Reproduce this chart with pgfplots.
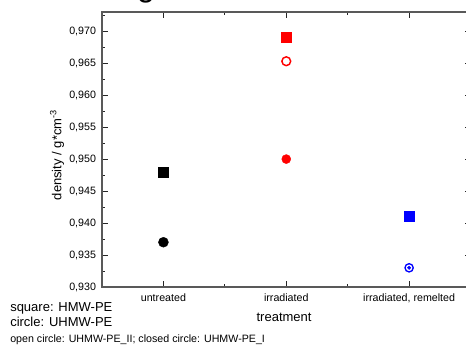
\documentclass[border=0pt]{standalone}
\usepackage{fontspec}
\setmainfont{Liberation Sans}
\usepackage{pgfplots}
\pgfplotsset{compat=1.18}

\begin{document}
\begin{tikzpicture}
% page frame: the axis corner sits at the origin, the right spine runs off the page
\useasboundingbox (-76.5pt,-43.5pt) rectangle (273pt,215.25pt);
\clip (-76.5pt,-43.5pt) rectangle (273pt,215.25pt);

% heading, mostly above the page edge
\node[anchor=base, inner sep=0pt, font=\fontsize{24}{28}\selectfont] at (33pt,217.5pt) {g};

\begin{axis}[
  at={(0,0)}, anchor=south west,
  scale only axis,
  width=276.4pt, height=206.25pt,
  xmin=-0.5, xmax=2.5,
  ymin=0.930, ymax=0.973,
  xtick={0,1,2},
  xticklabels={untreated, irradiated, {irradiated, remelted}},
  minor xtick={0.5,1.5},
  ytick={0.930,0.935,0.940,0.945,0.950,0.955,0.960,0.965,0.970},
  minor ytick={0.9325,0.9375,0.9425,0.9475,0.9525,0.9575,0.9625,0.9675,0.9725},
  /pgf/number format/assume math mode=true,
  yticklabel style={xshift=-1pt,
    /pgf/number format/fixed, /pgf/number format/fixed zerofill,
    /pgf/number format/precision=3, /pgf/number format/use comma},
  ticklabel style={font=\fontsize{8}{9.6}\selectfont},
  xticklabel style={anchor=base, yshift=-10.5pt},
  axis line style={black!65, line width=0.8pt},
  major tick length=4.5pt,
  minor tick length=2.25pt,
  every tick/.style={black!85, line width=0.6pt},
  xlabel={treatment},
  ylabel={density / g*cm\textsuperscript{-3}},
  label style={font=\fontsize{9.75}{11}\selectfont},
  xlabel style={at={(axis description cs:0.494,-0.126)}, anchor=base},
  ylabel style={at={(axis description cs:-0.122,0.48)}, anchor=center},
  clip=false,
]
% HMW-PE (squares)
\addplot[only marks, mark=square*, mark size=3.75pt, mark options={fill=black, draw=black, line width=0.3pt}]
  coordinates {(0,0.948)};
\addplot[only marks, mark=square*, mark size=3.75pt, mark options={fill=red, draw=red, line width=0.3pt}]
  coordinates {(1,0.969)};
\addplot[only marks, mark=square*, mark size=3.75pt, mark options={fill=blue, draw=blue, line width=0.3pt}]
  coordinates {(2,0.941)};
% UHMW-PE_I (closed circles)
\addplot[only marks, mark=*, mark size=3.75pt, mark options={fill=black, draw=black, line width=0.3pt}]
  coordinates {(0,0.937)};
\addplot[only marks, mark=*, mark size=3.4pt, mark options={fill=red, draw=red, line width=0.3pt}]
  coordinates {(1,0.950)};
\addplot[only marks, mark=*, mark size=1.3pt, mark options={fill=blue, draw=blue, line width=0.3pt}]
  coordinates {(2,0.933)};
% UHMW-PE_II (open circles)
\addplot[only marks, mark=o, mark size=3.3pt, mark options={draw=red, line width=1.1pt}]
  coordinates {(1,0.9653)};
\addplot[only marks, mark=o, mark size=3.1pt, mark options={draw=blue, line width=1pt}]
  coordinates {(2,0.933)};
\end{axis}

% key to the symbols
\node[anchor=base west, inner sep=0pt, font=\fontsize{9.75}{11}\selectfont] at (-69pt,-18pt) {square: HMW-PE};
\node[anchor=base west, inner sep=0pt, font=\fontsize{9.75}{11}\selectfont] at (-69pt,-29.8pt) {circle: UHMW-PE};
\node[anchor=base west, inner sep=0pt, font=\fontsize{8}{9.6}\selectfont] at (-69pt,-41.5pt) {open circle: UHMW-PE\_II; closed circle: UHMW-PE\_I};
\end{tikzpicture}
\end{document}
